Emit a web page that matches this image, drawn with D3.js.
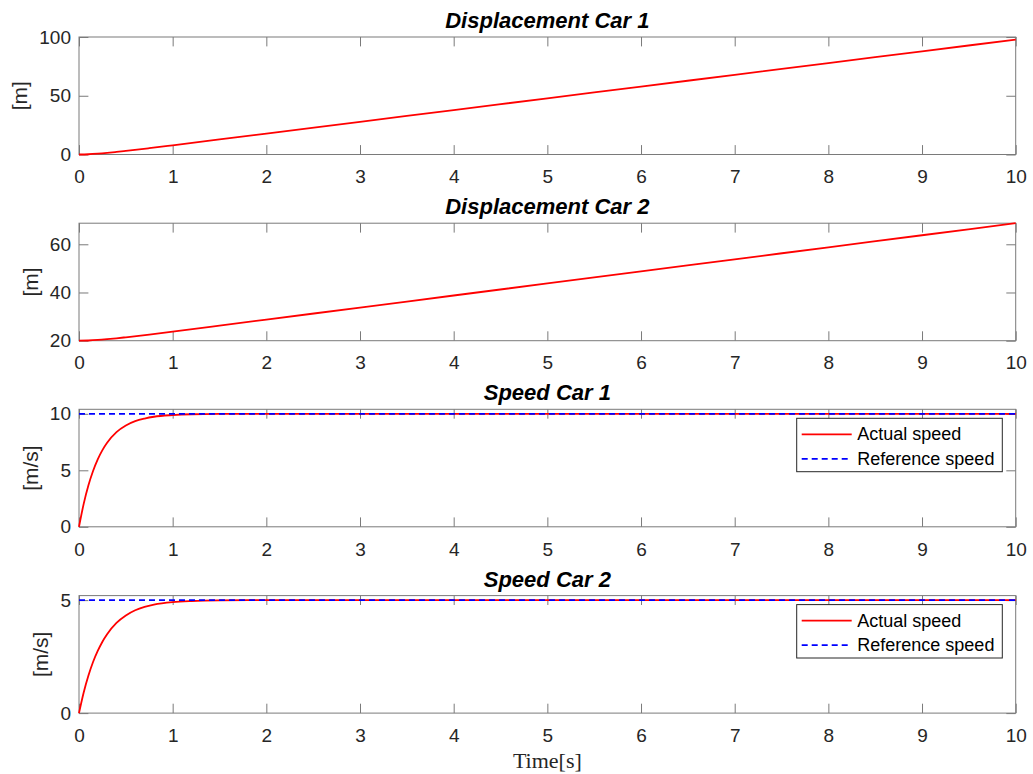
<!DOCTYPE html>
<html>
<head>
<meta charset="utf-8">
<script src="https://cdn.jsdelivr.net/npm/d3@7"></script>
<style>
  html, body { margin: 0; padding: 0; background: #fff; }
  svg { display: block; }
</style>
</head>
<body>
<svg id="chart" width="1033" height="774"></svg>
<script>
// ---------------- data ----------------
const xTicks = [0, 1, 2, 3, 4, 5, 6, 7, 8, 9, 10];
const titles = ["Displacement Car 1", "Displacement Car 2", "Speed Car 1", "Speed Car 2"];
const yLabels = ["[m]", "[m]", "[m/s]", "[m/s]"];
const yTicks1 = [0, 50, 100];
const yTicks2 = [20, 40, 60];
const yTicks3 = [0, 5, 10];
const yTicks4 = [0, 5];
const yDomain1 = [0, 100];
const yDomain2 = [20, 68.75];
const yDomain3 = [0, 10.4];
const yDomain4 = [0, 5.2];

const tDisp = [0, 0.1, 0.2, 0.3, 0.4, 0.5, 0.75, 1, 1.5, 2, 3, 4, 5, 6, 7, 8, 9, 10];
const disp1 = [0, 0.20, 0.69, 1.36, 2.16, 3.03, 5.37, 7.82, 12.80, 17.80, 27.8, 37.8, 47.8, 57.8, 67.8, 77.8, 87.8, 97.8];
const disp2 = [20, 20.09, 20.31, 20.63, 21.00, 21.42, 22.56, 23.77, 26.25, 28.75, 33.75, 38.75, 43.75, 48.75, 53.75, 58.75, 63.75, 68.75];

const tSpeed = [0, 0.05, 0.1, 0.15, 0.2, 0.25, 0.3, 0.4, 0.5, 0.6, 0.7, 0.8, 1.0, 1.2, 1.5, 2, 3, 4, 5, 6, 7, 8, 9, 10];
const speed1 = [0, 2.03, 3.65, 4.94, 5.97, 6.79, 7.44, 8.38, 8.97, 9.35, 9.58, 9.74, 9.89, 9.96, 9.99, 10, 10, 10, 10, 10, 10, 10, 10, 10];
const speed2 = [0, 0.91, 1.65, 2.26, 2.75, 3.16, 3.49, 3.99, 4.32, 4.55, 4.70, 4.80, 4.91, 4.96, 4.99, 5, 5, 5, 5, 5, 5, 5, 5, 5];

const tRef = [0, 10];
const ref1 = [10, 10];
const ref2 = [5, 5];

const legendLabels = ["Actual speed", "Reference speed"];
const xLabel = "Time[s]";

// ---------------- layout ----------------
const svg = d3.select("#chart");
const plotLeft = 79, plotRight = 1015.7;
const tops = [37, 223.2, 409.3, 595.6];
const plotH = 117.5;
const tickLen = 9.4;
const axisColor = "#7a7a7a";
const textColor = "#262626";
const font = "'Liberation Sans', Arial, Helvetica, sans-serif";

const x = d3.scaleLinear().domain([0, 10]).range([plotLeft, plotRight]);

const panels = [
  { yDomain: yDomain1, yTicks: yTicks1, lines: [{ t: tDisp, v: disp1, kind: "actual" }], legend: false },
  { yDomain: yDomain2, yTicks: yTicks2, lines: [{ t: tDisp, v: disp2, kind: "actual" }], legend: false },
  { yDomain: yDomain3, yTicks: yTicks3, lines: [{ t: tSpeed, v: speed1, kind: "actual" }, { t: tRef, v: ref1, kind: "ref" }], legend: true },
  { yDomain: yDomain4, yTicks: yTicks4, lines: [{ t: tSpeed, v: speed2, kind: "actual" }, { t: tRef, v: ref2, kind: "ref" }], legend: true }
];

function styleLine(sel, kind) {
  if (kind === "actual") {
    sel.attr("stroke", "#ff0000").attr("stroke-width", 1.8);
  } else {
    sel.attr("stroke", "#0000ff").attr("stroke-width", 1.8).attr("stroke-dasharray", "6,4");
  }
  return sel;
}

panels.forEach((p, i) => {
  const top = tops[i], bottom = top + plotH;
  const y = d3.scaleLinear().domain(p.yDomain).range([bottom, top]);
  const g = svg.append("g");

  // axes (inward ticks on all four sides)
  const axB = g.append("g").attr("transform", `translate(0,${bottom})`)
    .call(d3.axisBottom(x).tickValues(xTicks).tickSize(0).tickPadding(15.3).tickFormat(d3.format("d")));
  axB.selectAll(".tick line").attr("y1", 0).attr("y2", -tickLen);
  const axT = g.append("g").attr("transform", `translate(0,${top})`)
    .call(d3.axisTop(x).tickValues(xTicks).tickSize(0).tickFormat(""));
  axT.selectAll(".tick line").attr("y1", 0).attr("y2", tickLen);
  const axL = g.append("g").attr("transform", `translate(${plotLeft},0)`)
    .call(d3.axisLeft(y).tickValues(p.yTicks).tickSize(0).tickPadding(8).tickFormat(d3.format("d")));
  axL.selectAll(".tick line").attr("x1", 0).attr("x2", tickLen);
  const axR = g.append("g").attr("transform", `translate(${plotRight},0)`)
    .call(d3.axisRight(y).tickValues(p.yTicks).tickSize(0).tickFormat(""));
  axR.selectAll(".tick line").attr("x1", 0).attr("x2", -tickLen);

  [axB, axT, axL, axR].forEach(a => {
    a.select(".domain").remove();
    a.selectAll(".tick line").attr("stroke", axisColor).attr("stroke-width", 1);
    a.selectAll(".tick text").attr("fill", textColor).style("font-family", font).style("font-size", "19px");
  });

  g.append("rect").attr("x", plotLeft).attr("y", top)
    .attr("width", plotRight - plotLeft).attr("height", plotH)
    .attr("fill", "none").attr("stroke", axisColor).attr("stroke-width", 1);

  const lg = g.append("g");
  p.lines.forEach(L => {
    const pts = L.t.map((t, k) => [t, L.v[k]]);
    const line = d3.line().x(d => x(d[0])).y(d => y(d[1])).curve(d3.curveMonotoneX);
    styleLine(lg.append("path").datum(pts).attr("d", line).attr("fill", "none"), L.kind);
  });

  g.append("text").attr("x", (plotLeft + plotRight) / 2).attr("y", top - 9)
    .attr("text-anchor", "middle").attr("fill", "#000")
    .style("font-family", font).style("font-size", "22px")
    .style("font-weight", "bold").style("font-style", "italic")
    .text(titles[i]);

  let maxW = 0;
  axL.selectAll(".tick text").each(function () { maxW = Math.max(maxW, this.getComputedTextLength()); });
  const lx = plotLeft - 8 - maxW - 17.5;
  g.append("text").attr("transform", `translate(${lx},${(top + bottom) / 2}) rotate(-90)`)
    .attr("text-anchor", "middle").attr("dominant-baseline", "middle").attr("fill", textColor)
    .style("font-family", font).style("font-size", "21px")
    .text(yLabels[i]);

  if (p.legend) {
    const bx = 796.7, by = top + 9, bw = 205.6, bh = 53.4;
    const leg = g.append("g");
    leg.append("rect").attr("x", bx).attr("y", by).attr("width", bw).attr("height", bh)
      .attr("fill", "#fff").attr("stroke", textColor).attr("stroke-width", 1);
    const rows = [by + 16, by + 40.5];
    ["actual", "ref"].forEach((kind, k) => {
      styleLine(leg.append("line").attr("x1", bx + 5).attr("x2", bx + 55)
        .attr("y1", rows[k]).attr("y2", rows[k]), kind);
      leg.append("text").attr("x", bx + 60.6).attr("y", rows[k])
        .attr("dominant-baseline", "central").attr("fill", "#000")
        .style("font-family", font).style("font-size", "18px")
        .text(legendLabels[k]);
    });
  }
});

svg.append("text").attr("x", (plotLeft + plotRight) / 2).attr("y", 768)
  .attr("text-anchor", "middle").attr("fill", textColor)
  .style("font-family", "'Liberation Serif', 'Times New Roman', serif").style("font-size", "22px")
  .text(xLabel);
</script>
</body>
</html>
